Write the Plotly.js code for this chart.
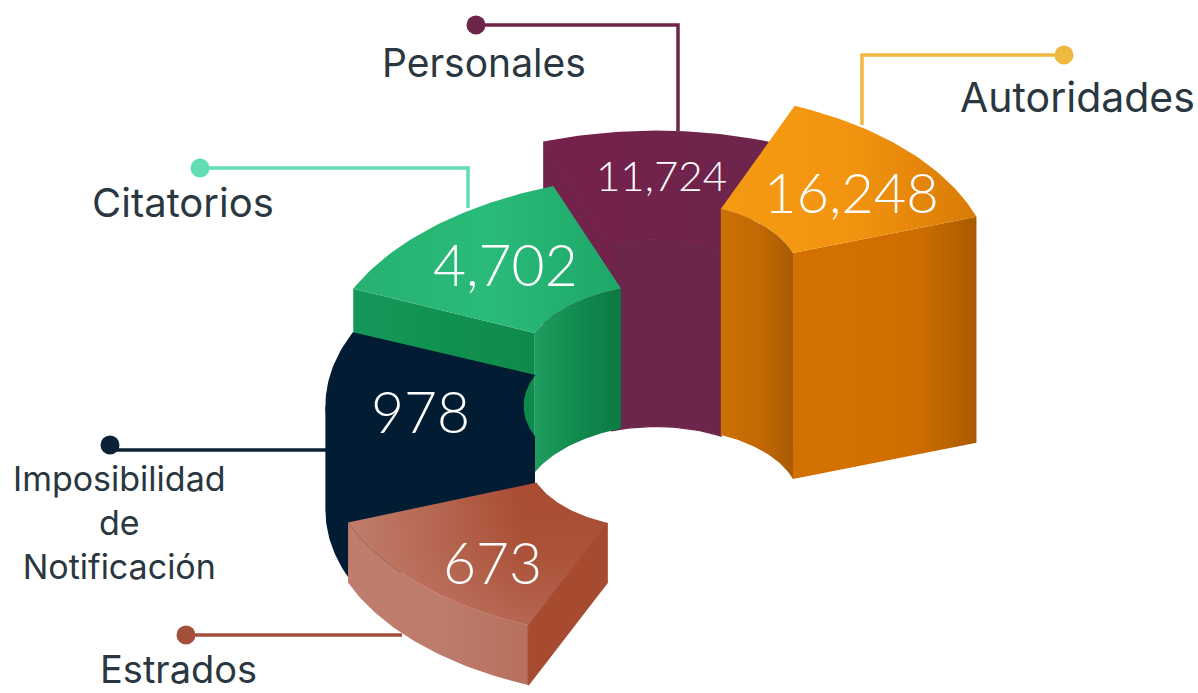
<!DOCTYPE html>
<html><head><meta charset="utf-8">
<script src="https://cdn.plot.ly/plotly-3.0.1.min.js"></script>
<style>html,body{margin:0;padding:0;background:#fff}#chart{width:1198px;height:693px}</style>
</head><body><div id="chart"></div>
<script>
// ---- chart data ----
const categories = ["Autoridades", "Personales", "Citatorios", "Imposibilidad<br>de<br>Notificación", "Estrados"];
const values = [16248, 11724, 4702, 978, 673];

// ---- drawing geometry of the tilted ring, one row per slice ----
const startDeg = [19, 60, 110, 157, 201];
const endDeg   = [67.6, 110, 156, 203, 247];
const ringCx   = [672, 656, 673, 666, 658];
const ringCy   = [277, 311, 367, 406, 457];
const outerR   = [322, 328, 350, 340, 332];
const innerR   = [128, 130, 152, 143, 130];
const tilt     = [0.575, 0.55, 0.55, 0.55, 0.55];
const wallH    = [226, 187, 140, 104, 60];

const STEPS = 40;
function pt(i, r, deg, drop) {
  const a = deg * Math.PI / 180;
  return [ringCx[i] + r * Math.cos(a), ringCy[i] - tilt[i] * r * Math.sin(a) + (drop || 0)];
}
function arc(i, r, a0, a1, drop) {
  const out = [];
  for (let k = 0; k <= STEPS; k++) out.push(pt(i, r, a0 + (a1 - a0) * k / STEPS, drop));
  return out;
}
const topFace = i => arc(i, outerR[i], startDeg[i], endDeg[i]).concat(arc(i, innerR[i], endDeg[i], startDeg[i]));
const innerWall = i => arc(i, innerR[i], startDeg[i], endDeg[i]).concat(arc(i, innerR[i], endDeg[i], startDeg[i], wallH[i]));
// only the part of the outer wall that faces the viewer (past 180 degrees)
const outerWall = i => {
  const from = Math.max(startDeg[i], 180);
  return arc(i, outerR[i], from, endDeg[i]).concat(arc(i, outerR[i], endDeg[i], from, wallH[i]));
};
const radialWall = (i, deg) => [pt(i, outerR[i], deg), pt(i, innerR[i], deg), pt(i, innerR[i], deg, wallH[i]), pt(i, outerR[i], deg, wallH[i])];

function face(name, pts, paint, dir) {
  const t = {
    type: "scatter", mode: "lines", name: name, showlegend: false, hoverinfo: "skip",
    x: pts.map(p => p[0]).concat(pts[0][0]), y: pts.map(p => p[1]).concat(pts[0][1]),
    fill: "toself", line: { width: 0 }
  };
  if (Array.isArray(paint)) {
    t.fillgradient = { type: dir || "horizontal", colorscale: paint.map((c, j) => [j / (paint.length - 1), c]) };
    t.fillcolor = paint[0];
  } else {
    t.fillcolor = paint;
    t.line = { width: 1.2, color: paint };
  }
  return t;
}

const [A, P, C, I, E] = [0, 1, 2, 3, 4];
const traces = [
  // Personales
  face(categories[P], radialWall(P, endDeg[P]), "#72224b"),
  face(categories[P], innerWall(P), "#6c254b"),
  face(categories[P], topFace(P), ["#76204a", "#70234b", "#6c254b"]),
  // Citatorios
  face(categories[C], radialWall(C, endDeg[C]), ["#14985a", "#10914f", "#0f8a4c"]),
  face(categories[C], innerWall(C), ["#1f9d5e", "#118a4e", "#0a7a42"]),
  face(categories[C], topFace(C), ["#27b171", "#2abb79", "#1ea768"]),
  // Imposibilidad de Notificación
  face(categories[I], outerWall(I), "#021c33"),
  face(categories[I], radialWall(I, endDeg[I]), "#021c33"),
  face(categories[I], topFace(I), "#021c33"),
  // Estrados
  face(categories[E], outerWall(E), ["#c07d6d", "#bd7c6c", "#b8705e"]),
  face(categories[E], radialWall(E, endDeg[E]), "#a64a30"),
  face(categories[E], topFace(E), ["#c07d6d", "#b5654f", "#a84c32", "#a84c32"]),
  face(categories[E], topFace(E), ["rgba(196,128,112,0.5)", "rgba(196,128,112,0.12)", "rgba(196,128,112,0)"], "vertical"),
  // Autoridades
  face(categories[A], innerWall(A), ["#cc7004", "#c46a04", "#a85c05"]),
  face(categories[A], radialWall(A, startDeg[A]), ["#d27000", "#d27000", "#cf6e00", "#a95a00"]),
  face(categories[A], topFace(A), ["#f59a12", "#f39410", "#d97b05"])
];

// ---- leader lines and end dots ----
const leaderColor = ["#efb941", "#6d2549", "#62dcb1", "#0b2236", "#a2503b"];
const leaderX = [[1064, 862, 862], [476, 678, 678], [200, 468, 468], [110, 326], [186, 402]];
const leaderY = [[55, 55, 125], [25, 25, 131], [168, 168, 208], [450, 450], [635, 635]];
const dotY = [55, 25, 168, 445, 635];
leaderX.forEach((xs, i) => {
  traces.unshift({ type: "scatter", mode: "lines", x: xs, y: leaderY[i], showlegend: false, hoverinfo: "skip",
    line: { color: leaderColor[i], width: 3.5 } });
  traces.push({ type: "scatter", mode: "markers", x: [xs[0]], y: [dotY[i]], showlegend: false, hoverinfo: "skip",
    marker: { color: leaderColor[i], size: 19 } });
});

// ---- texts ----
const valueX = [851, 661, 505, 420, 492];
const valueY = [191, 175, 264, 411, 562];
const valueSize = [56, 42, 57, 57, 57];
const labelX = [1077, 484, 183, 119, 178];
const labelY = [97, 62, 202, 522, 669];
const labelSize = [41, 39, 40, 34, 38];
const valueFont = "Lato, 'Open Sans', sans-serif";
const labelFont = "Inter, 'Open Sans', sans-serif";
const annotations = [];
categories.forEach((c, i) => {
  annotations.push({ x: valueX[i], y: valueY[i], xref: "x", yref: "y", text: values[i].toLocaleString("en-US"), showarrow: false,
    font: { family: valueFont, size: valueSize[i], color: "#ffffff", weight: 300 } });
  annotations.push({ x: labelX[i], y: labelY[i], xref: "x", yref: "y", text: c, showarrow: false, align: "center",
    font: { family: labelFont, size: labelSize[i], color: "#2a3740" } });
});

const hidden = { visible: false, showgrid: false, zeroline: false, fixedrange: true };
Plotly.newPlot("chart", traces, {
  width: 1198, height: 693, margin: { l: 0, r: 0, t: 0, b: 0 },
  paper_bgcolor: "#ffffff", plot_bgcolor: "#ffffff", showlegend: false,
  xaxis: Object.assign({ range: [0, 1198] }, hidden),
  yaxis: Object.assign({ range: [693, 0] }, hidden),
  annotations: annotations
}, { staticPlot: true, displayModeBar: false });
</script></body></html>
